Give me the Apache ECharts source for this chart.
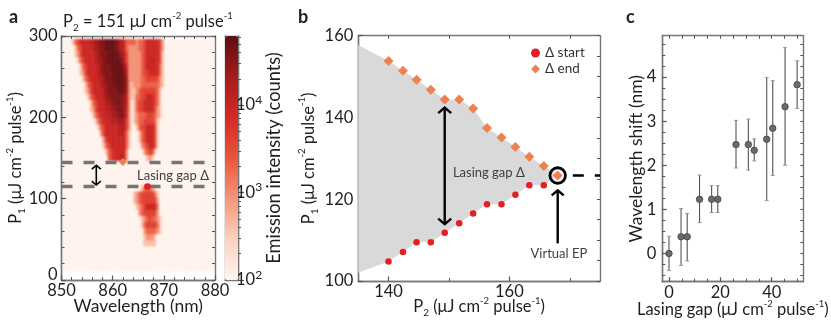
<!DOCTYPE html>
<html><head><meta charset="utf-8">
<style>html,body{margin:0;padding:0;background:#fff}
#heat,#main{position:absolute;left:0;top:0;width:831px;height:323px}
#heat{filter:blur(1.2px)}</style>
<script src="https://cdn.jsdelivr.net/npm/echarts@6/dist/echarts.min.js"></script>
</head><body><div id="heat"></div><div id="main"></div>
<script>
// ---- panel a: emission map, one string per P1 row, one digit per wavelength cell
const heatWaveStart = 850, heatWaveStep = 0.5, heatWaveCount = 60;
const heatP1Values = [292.5,285,277.5,270,262.5,255,247.5,240,232.5,225,217.5,210,202.5,195,187.5,180,172.5,165,157.5,150,142.5,135,127.5,120,112.5,105,97.5,90,82.5,75,67.5,60,52.5,45,37.5,30,22.5,15];
const heatLevels = [2.0,2.6,2.95,3.3,3.6,3.95,4.15,4.35,4.55,4.7];
const heatRows = [
"000013455556677889999876533332334555554200",
"000001345555677889999876532222334555554200",
"000001245555567888999987642222234555554100",
"000000134555567788999998642222234556554100",
"000000013455556788899999752222234555553100",
"000000012455556788889999862222234455553100",
"000000001345556678889999872222233444442100",
"000000000134555677888999872122233333332100",
"000000000124555567888899872112344444431000",
"000000000013455567788888762113344555431000",
"000000000001345556778888762013445555431000",
"000000000001245556677888752013445555421000",
"000000000000134555667788752012333444321000",
"000000000000013455566677642012334444310000",
"000000000000001345555566642001344555410000",
"000000000000000245555566531000134555410000",
"000000000000000024555555531000134555410000",
"000000000000000013455555531000023455410000",
"000000000000000001345555520000002344100000",
"000000000000000000345556520000000121000000",
"","","","",
"000000000000000000000000000000013332100000",
"000000000000000000000000000012344444310000",
"000000000000000000000000000012344444420000",
"000000000000000000000000000001234555530000",
"000000000000000000000000000000234444420000",
"000000000000000000000000000000012343321000",
"000000000000000000000000000000013444431000",
"000000000000000000000000000000002333321000",
"000000000000000000000000000000001222100000",
"000000000000000000000000000000001111100000",
"","","",""
];
const aDashLevels = [144.5, 115];
const aDashX = [850, 880];
const aGapArrow = [[856.8, 141, 116.8]];
const aStartPoint = [[866.8, 115]];
const aEndPoint = [[862, 145]];
const aXMajor = [850,860,870,880];
const aXAll = [850,852,854,856,858,860,862,864,866,868,870,872,874,876,878,880];
const aYMajor = [0,100,200,300];
const aYAll = [0,20,40,60,80,100,120,140,160,180,200,220,240,260,280,300];
const barMajor = [2,3,4];
const barMinor = [2.301,2.477,2.602,2.699,2.778,2.845,2.903,2.954,3.301,3.477,3.602,3.699,3.778,3.845,3.903,3.954,4.301,4.477,4.602,4.699,4.778];
const barColors = ['#fff3ee','#fcd3c1','#f4957a','#ea553d','#d42a27','#a81a1c','#5a0f12'];

// ---- panel b
const bP2 = [140,142.4,144.65,147,149.3,151.7,154,156.3,158.7,161,163.3,165.7];
const bStart = [104.8,107.1,109.5,109.5,111.8,114.1,116.5,118.8,118.8,121.1,123.4,123.4];
const bEnd = [153.8,151.4,149.2,146.8,144.4,144.4,142.2,137.4,135.1,132.8,130.4,128.1];
const bEP = [168,125.8];
const bGapLeft = [135,157.7,102];
const bDash = [[170.5,125.8],[175,125.8]];
const bGapArrow = [[149.3,142.4,113.9]];
const bEPArrow = [[168,122.2,109.2]];
const bXMajor = [140,160];
const bXAll = [140,150,160,170];
const bYMajor = [100,120,140,160];
const bYAll = [100,105,110,115,120,125,130,135,140,145,150,155,160];

// ---- panel c
const cGap = [0,4.7,7.1,11.9,16.6,19,26.1,30.9,33.2,38.05,40.4,45.2,49.9];
const cShift = [0,0.38,0.38,1.23,1.23,1.23,2.47,2.47,2.34,2.59,2.84,3.33,3.83];
const cHigh = [0.39,1.02,0.91,1.78,1.54,1.54,3.02,3.05,2.6,3.99,3.92,4.67,4.37];
const cLow = [-0.39,-0.27,-0.17,0.7,0.93,0.93,1.94,1.89,2.1,1.2,1.77,2,3.29];
const cXMajor = [0,20,40];
const cXAll = [0,5,10,15,20,25,30,35,40,45,50];
const cYMajor = [0,1,2,3,4];
const cYAll = [-0.5,-0.25,0,0.25,0.5,0.75,1,1.25,1.5,1.75,2,2.25,2.5,2.75,3,3.25,3.5,3.75,4,4.25,4.5,4.75];

const RED='#e31f26', ORANGE='#ee8152', AXIS='#777', FONT='Lato', TXT='#1f1f1f';
const richT = {
  sub:{fontFamily:FONT,fontSize:10,lineHeight:22,verticalAlign:'bottom',color:TXT},
  sup:{fontFamily:FONT,fontSize:9.5,lineHeight:22,verticalAlign:'top',color:TXT},
  base:{fontFamily:FONT,fontSize:16.5,lineHeight:22,color:TXT},
  word:{fontFamily:FONT,fontSize:17.5,lineHeight:22,color:TXT},
  wordB:{fontFamily:FONT,fontSize:18.3,lineHeight:22,color:TXT}
};
const P = (n)=>`{base|P}{sub|${n}}{base| (μJ cm}{sup|-2}{base| pulse}{sup|-1}{base|)}`;

const grids = [
  {left:61.5,top:36,width:153.5,height:244},
  {left:225,top:36,width:13,height:244},
  {left:358.3,top:35.7,width:241.7,height:245.3},
  {left:662.3,top:35.7,width:141,height:246}
];
const lineSt = {show:true,onZero:false,lineStyle:{color:AXIS,width:1.4}};
function axisSet(dim,g,min,max,major,all,o){
  o=o||{};
  const near = dim==='x'?'bottom':'left', far = dim==='x'?'top':'right';
  const base={gridIndex:g,type:'value',min,max,splitLine:{show:false},axisLine:lineSt};
  return [
    Object.assign({},base,{position:near,name:o.name,nameLocation:'middle',nameGap:o.nameGap,nameRotate:o.nameRotate,nameMoveOverlap:false,
      nameTextStyle:{fontFamily:FONT,fontSize:16,color:TXT,rich:richT},
      axisTick:{show:true,inside:true,length:4.5,customValues:major,lineStyle:{color:'#555',width:1.2}},
      axisLabel:{show:true,customValues:major,margin:o.margin||5,hideOverlap:false,showMinLabel:true,showMaxLabel:true,
        formatter:o.fmt,fontFamily:FONT,fontSize:16.5,color:TXT,rich:o.rich}}),
    Object.assign({},base,{position:near,axisTick:{show:true,inside:true,length:3,customValues:all,lineStyle:{color:'#555',width:1}},axisLabel:{show:false}}),
    Object.assign({},base,{position:far,axisTick:{show:true,inside:true,length:3,customValues:all,lineStyle:{color:'#555',width:1}},axisLabel:{show:false}})
  ];
}
const xAxes=[].concat(
  axisSet('x',0,850,880,aXMajor,aXAll,{name:'{word|Wavelength (nm)}',nameGap:15,margin:2}),
  [{gridIndex:1,type:'value',min:0,max:1,show:true,axisLine:lineSt,axisTick:{show:false},axisLabel:{show:false},splitLine:{show:false},position:'bottom'},
   {gridIndex:1,type:'value',min:0,max:1,show:true,axisLine:lineSt,axisTick:{show:false},axisLabel:{show:false},splitLine:{show:false},position:'top'}],
  axisSet('x',2,135,175,bXMajor,bXAll,{name:P(2),nameGap:15,margin:2}),
  axisSet('x',3,-2.6,52.3,cXMajor,cXAll,{name:'{base|Lasing gap (μJ cm}{sup|-2}{base| pulse}{sup|-1}{base|)}',nameGap:17,margin:2})
);
const yAxes=[].concat(
  axisSet('y',0,0,300,aYMajor,aYAll,{name:P(1),nameGap:35,margin:4,
    fmt:v=>v===0?'{z|0}':String(v),rich:{z:{fontFamily:FONT,fontSize:16.5,color:TXT,padding:[0,0,10,0]}}}),
  [{gridIndex:1,type:'value',min:2,max:4.79,position:'left',axisLine:lineSt,axisTick:{show:false},axisLabel:{show:false},splitLine:{show:false}},
   {gridIndex:1,type:'value',min:2,max:4.79,position:'right',axisLine:lineSt,splitLine:{show:false},
    name:'{wordB|Emission intensity (counts)}',nameLocation:'middle',nameGap:25,nameRotate:90,nameMoveOverlap:false,nameTextStyle:{rich:richT},
    axisTick:{show:true,inside:false,length:6,customValues:barMajor,lineStyle:{color:'#555',width:1.2}},
    axisLabel:{show:true,customValues:barMajor,margin:-2,formatter:v=>`{b|10}{s|${v}}`,
      rich:{b:{fontFamily:FONT,fontSize:16.5,color:TXT,lineHeight:22},s:{fontFamily:FONT,fontSize:12,color:TXT,lineHeight:22,verticalAlign:'top'}}}},
   {gridIndex:1,type:'value',min:2,max:4.79,position:'right',axisLine:lineSt,splitLine:{show:false},
    axisTick:{show:true,inside:false,length:3,customValues:barMinor,lineStyle:{color:'#555',width:1}},axisLabel:{show:false}}],
  axisSet('y',2,100,160,bYMajor,bYAll,{name:P(1),nameGap:39,margin:5}),
  axisSet('y',3,-0.64,4.94,cYMajor,cYAll,{name:'{word|Wavelength shift (nm)}',nameGap:15,margin:6})
);
const AX={a:[0,0],bar:[3,3],b:[5,6],c:[8,9]};
function on(k){return {xAxisIndex:AX[k][0],yAxisIndex:AX[k][1]};}

function arrowSeries(k,data,width,head,both){
  return Object.assign({type:'custom',silent:true,z:6,clip:false,data,encode:{x:0,y:[1,2]},
    renderItem(p,api){
      const a=api.coord([api.value(0),api.value(1)]), b=api.coord([api.value(0),api.value(2)]);
      const dir=b[1]>a[1]?1:-1, h=head, hy=head*0.85;
      const st={stroke:'#000',lineWidth:width,fill:null};
      const kids=[{type:'line',shape:{x1:a[0],y1:a[1],x2:b[0],y2:b[1]},style:st},
        {type:'polyline',shape:{points:[[a[0]-h,a[1]+dir*hy],[a[0],a[1]],[a[0]+h,a[1]+dir*hy]]},style:st}];
      if(both)kids.push({type:'polyline',shape:{points:[[b[0]-h,b[1]-dir*hy],[b[0],b[1]],[b[0]+h,b[1]-dir*hy]]},style:st});
      return {type:'group',children:kids};
    }},on(k));
}
function textSeries(k,text,x,y,size){
  return Object.assign({type:'custom',silent:true,z:7,clip:false,data:[[x,y]],encode:{x:0,y:1},
    renderItem(p,api){const c=api.coord([api.value(0),api.value(1)]);
      return {type:'text',x:c[0],y:c[1],style:{text,fontFamily:FONT,fontSize:size,fill:'#404040',align:'center',verticalAlign:'middle'}};}},on(k));
}
function dashSeries(k,data,color,width,dash){
  return Object.assign({type:'line',silent:true,symbol:'none',z:4,data,lineStyle:{color,width,type:dash}},on(k));
}

// ---------- heat layer (blurred, underneath)
const heatData=[];
heatP1Values.forEach((p,r)=>{
  const row=heatRows[r].padEnd(heatWaveCount,'0');
  for(let i=0;i<heatWaveCount;i++) heatData.push([heatWaveStart+heatWaveStep*i+heatWaveStep/2,p,heatLevels[+row[i]]]);
});
const heat=echarts.init(document.getElementById('heat'),null,{renderer:'canvas'});
heat.setOption({animation:false,
  grid:[Object.assign({outerBoundsMode:'none'},grids[0])],
  xAxis:{type:'value',min:850,max:880,show:false},
  yAxis:{type:'value',min:0,max:300,show:false},
  visualMap:{type:'continuous',show:false,min:2,max:4.79,dimension:2,seriesIndex:0,inRange:{color:barColors}},
  series:[{type:'custom',data:heatData,encode:{x:0,y:1},clip:true,
    renderItem(p,api){
      const c0=api.coord([api.value(0)-heatWaveStep/2,api.value(1)+3.75]);
      const c1=api.coord([api.value(0)+heatWaveStep/2,api.value(1)-3.75]);
      return {type:'rect',shape:{x:c0[0],y:c0[1],width:c1[0]-c0[0]+0.5,height:c1[1]-c0[1]+0.5},style:{fill:api.visual('color')}};
    }}]
});

// ---------- main layer
const gapUpper=[[bGapLeft[0],bGapLeft[1]]].concat(bP2.map((x,i)=>[x,bEnd[i]]),[bEP]);
const gapLower=[[bGapLeft[0],bGapLeft[2]]].concat(bP2.map((x,i)=>[x,bStart[i]]),[bEP]);
const gapPoly=gapUpper.concat(gapLower.slice().reverse());

const titleBold={fontFamily:FONT,fontSize:18,fontWeight:'bold',color:'#222'};
const main=echarts.init(document.getElementById('main'),null,{renderer:'canvas'});
main.setOption({animation:false,backgroundColor:'transparent',
  textStyle:{fontFamily:FONT},
  title:[
    {text:'a',left:4,top:3,textStyle:titleBold},
    {text:'b',left:293,top:3,textStyle:titleBold},
    {text:'c',left:621,top:3,textStyle:titleBold},
    {text:'{base|P}{sub|2}{base| = 151 μJ cm}{sup|-2}{base| pulse}{sup|-1}',left:58,top:6,textStyle:{fontWeight:'normal',rich:richT}}
  ],
  grid:grids.map(g=>Object.assign({containLabel:false,outerBoundsMode:'none'},g)),
  xAxis:xAxes,yAxis:yAxes,
  legend:{left:531,top:46,orient:'vertical',itemWidth:9,itemHeight:9,itemGap:2,padding:0,selectedMode:false,
    textStyle:{fontFamily:FONT,fontSize:13.5,color:'#333'},
    data:[{name:'Δ start',icon:'circle'},{name:'Δ end',icon:'diamond'}]},
  visualMap:{type:'continuous',show:true,min:2,max:4.79,seriesIndex:[],left:225,top:36,itemWidth:13,itemHeight:244,padding:0,
    text:null,calculable:false,hoverLink:false,inRange:{color:barColors},textStyle:{color:'transparent'}},
  series:[
    // panel a annotations
    ...aDashLevels.map(v=>dashSeries('a',aDashX.map(x=>[x,v]),'#757575',3.5,[11,11])),
    arrowSeries('a',aGapArrow,1.6,4.5,true),
    textSeries('a','Lasing gap Δ',871.8,127.5,13),
    Object.assign({type:'scatter',data:aStartPoint,symbol:'circle',symbolSize:6.5,z:8,silent:true,itemStyle:{color:RED,opacity:1}},on('a')),
    Object.assign({type:'scatter',data:aEndPoint,symbol:'diamond',symbolSize:8,z:8,silent:true,itemStyle:{color:ORANGE,opacity:1}},on('a')),
    // panel b
    Object.assign({type:'custom',silent:true,z:1,data:[[0]],encode:{x:[],y:[]},
      renderItem(p,api){return {type:'polygon',shape:{points:gapPoly.map(q=>api.coord(q))},style:{fill:'#d9d9d9'}};}},on('b')),
    Object.assign({type:'scatter',name:'Δ start',data:bP2.map((x,i)=>[x,bStart[i]]),symbol:'circle',symbolSize:6.5,z:5,silent:true,itemStyle:{color:RED,opacity:1}},on('b')),
    Object.assign({type:'scatter',name:'Δ end',data:bP2.map((x,i)=>[x,bEnd[i]]).concat([bEP]),symbol:'diamond',symbolSize:10,z:5,silent:true,itemStyle:{color:ORANGE,opacity:1}},on('b')),
    Object.assign({type:'scatter',data:[bEP],symbol:'circle',symbolSize:15.5,z:6,silent:true,itemStyle:{color:'rgba(0,0,0,0)',borderColor:'#000',borderWidth:2.8,opacity:1}},on('b')),
    dashSeries('b',bDash,'#000',2.6,[11,11]),
    arrowSeries('b',bGapArrow,2.4,6.5,true),
    arrowSeries('b',bEPArrow,2.4,6,false),
    textSeries('b','Lasing gap Δ',156.6,126.4,13),
    textSeries('b','Virtual EP',168.2,106.7,13),
    // panel c
    Object.assign({type:'custom',silent:true,z:3,data:cGap.map((x,i)=>[x,cLow[i],cHigh[i]]),encode:{x:0,y:[1,2]},
      renderItem(p,api){
        const a=api.coord([api.value(0),api.value(1)]),b=api.coord([api.value(0),api.value(2)]);
        const st={stroke:'#555',lineWidth:1.1};
        return {type:'group',children:[
          {type:'line',shape:{x1:a[0],y1:a[1],x2:b[0],y2:b[1]},style:st},
          {type:'line',shape:{x1:a[0]-2,y1:a[1],x2:a[0]+2,y2:a[1]},style:{stroke:'#999',lineWidth:1}},
          {type:'line',shape:{x1:b[0]-2,y1:b[1],x2:b[0]+2,y2:b[1]},style:{stroke:'#999',lineWidth:1}}]};
      }},on('c')),
    Object.assign({type:'scatter',data:cGap.map((x,i)=>[x,cShift[i]]),symbol:'circle',symbolSize:6.5,z:5,silent:true,
      itemStyle:{color:'#6a6a6a',borderColor:'#444',borderWidth:0.8,opacity:1}},on('c'))
  ]
});
</script></body></html>
